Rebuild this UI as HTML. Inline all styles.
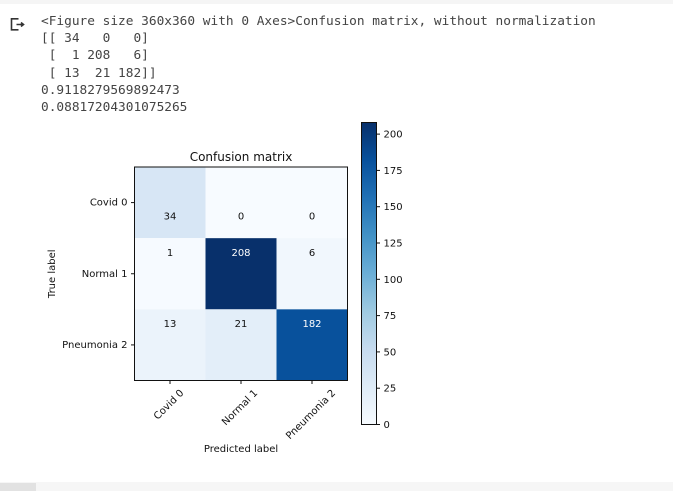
<!DOCTYPE html>
<html lang="en">
<head>
<meta charset="utf-8">
<title>Confusion matrix</title>
<style>
  html, body { margin: 0; padding: 0; background: #fff; }
  body { width: 673px; height: 491px; overflow: hidden; position: relative; }
  #top-bar { position: absolute; left: 0; top: 0; width: 673px; height: 4px; background: #f5f5f5; }
  #bottom-bar { position: absolute; left: 0; top: 482px; width: 673px; height: 9px; background: #f6f6f6; }
  #scroll-thumb { position: absolute; left: 0; top: 1px; width: 36px; height: 8px; background: #e2e2e2; }
  #output { position: absolute; left: 41px; top: 13px; margin: 0; font: 12.8px/17.2px "DejaVu Sans Mono", "Liberation Mono", monospace; color: #444; white-space: pre; }
  #icon { position: absolute; left: 0; top: 0; }
  #chart { position: absolute; left: 0; top: 0; }
  #chart text { font-family: "DejaVu Sans", "Liberation Sans", sans-serif; font-size: 10px; fill: #111; }
</style>
</head>
<body>
<div id="top-bar"></div>
<svg id="icon" width="40" height="40">
  <path d="M18.500 18.800H11.500V29.800H18.500M16.500 24.500H23.500M21 22.500L23.500 24.500L21 26.500" fill="none" stroke="#333" stroke-width="1.600"/>
</svg>
<pre id="output">&lt;Figure size 360x360 with 0 Axes&gt;Confusion matrix, without normalization
[[ 34   0   0]
 [  1 208   6]
 [ 13  21 182]]
0.9118279569892473
0.08817204301075265</pre>
<svg id="chart" width="673" height="491"></svg>
<div id="bottom-bar"><div id="scroll-thumb"></div></div>
<script>
const categories = ['Covid 0', 'Normal 1', 'Pneumonia 2'];
const matrixRow0 = [34, 0, 0];
const matrixRow1 = [1, 208, 6];
const matrixRow2 = [13, 21, 182];
const colorbarTicks = [0, 25, 50, 75, 100, 125, 150, 175, 200];
const blues = ['#f7fbff', '#deebf7', '#c6dbef', '#9ecae1', '#6baed6', '#4292c6', '#2171b5', '#08519c', '#08306b'];

const matrix = [matrixRow0, matrixRow1, matrixRow2];
const svg = document.getElementById('chart');
const NS = 'http://www.w3.org/2000/svg';
const axL = 134.5, axR = 347.5, axT = 167, axB = 380.5;
const cbL = 361.5, cbR = 376.5, cbT = 122.5, cbB = 424.5;
const maxV = Math.max(...matrix.flat());
const minV = Math.min(...matrix.flat());
const n = categories.length;

function xEdge(j) { return axL + j * (axR - axL) / n; }
function yEdge(i) { return axT + i * (axB - axT) / n; }
function xCenter(j) { return xEdge(j + 0.5); }
function yCenter(i) { return yEdge(i + 0.5); }
function cbY(v) { return cbB - (v - minV) / (maxV - minV) * (cbB - cbT); }
function color(v) {
  const t = Math.min(1, Math.max(0, (v - minV) / (maxV - minV))) * (blues.length - 1);
  const k = Math.min(blues.length - 2, Math.floor(t));
  const f = t - k;
  const hex = (s, p) => parseInt(s.substr(p, 2), 16);
  const mix = p => Math.round(hex(blues[k], p) * (1 - f) + hex(blues[k + 1], p) * f);
  return 'rgb(' + mix(1) + ',' + mix(3) + ',' + mix(5) + ')';
}
function make(tag, attrs, text) {
  const el = document.createElementNS(NS, tag);
  for (const key in attrs) el.setAttribute(key, attrs[key]);
  if (text !== undefined) el.textContent = text;
  svg.appendChild(el);
  return el;
}

// Heatmap cells and values
matrix.forEach((row, i) => {
  row.forEach((v, j) => {
    const cell = make('rect', { x: xEdge(j), y: yEdge(i), width: xEdge(j + 1) - xEdge(j), height: yEdge(i + 1) - yEdge(i), fill: color(v) });
    
    
  });
});
matrix.forEach((row, i) => {
  row.forEach((v, j) => {
    const offset = i === 0 ? 17 : -18;
    const label = make('text', { x: xCenter(j), y: yCenter(i) + offset, 'text-anchor': 'middle' }, String(v));
    label.style.fill = v > (maxV + minV) / 2 ? '#fff' : '#111';
    
    
  });
});

// Axes frame
const frame = make('rect', { x: axL, y: axT, width: axR - axL, height: axB - axT, fill: 'none', stroke: '#111', 'stroke-width': 1 });



// Y axis ticks and labels
categories.forEach((c, i) => {
  const tick = make('line', { x1: axL - 3.5, x2: axL, y1: yCenter(i), y2: yCenter(i), stroke: '#111' });
  
  
  const label = make('text', { x: axL - 7, y: yCenter(i) + 3, 'text-anchor': 'end' }, c);
  
  
});

// X axis ticks and rotated labels
categories.forEach((c, j) => {
  const tick = make('line', { x1: xCenter(j), x2: xCenter(j), y1: axB, y2: axB + 3.5, stroke: '#111' });
  
  
  const label = make('text', { 'text-anchor': 'middle' }, c);
  
  
  const w = label.getComputedTextLength();
  const half = (w + 10) * Math.SQRT1_2 / 2;
  const cx = xCenter(j) - 1.5;
  const cy = axB + 7 + half;
  label.setAttribute('x', cx);
  label.setAttribute('y', cy + 3.5);
  label.setAttribute('transform', 'rotate(-45 ' + cx + ' ' + cy + ')');
});

// Titles
const title = make('text', { x: (axL + axR) / 2, y: axT - 6, 'text-anchor': 'middle' }, 'Confusion matrix');
title.style.fontSize = '12px';


const xTitle = make('text', { x: (axL + axR) / 2, y: 452, 'text-anchor': 'middle' }, 'Predicted label');


const yTitle = make('text', { x: 55, y: (axT + axB) / 2, 'text-anchor': 'middle', transform: 'rotate(-90 55 ' + (axT + axB) / 2 + ')' }, 'True label');



// Colorbar
const defs = make('defs', {});
const grad = document.createElementNS(NS, 'linearGradient');
grad.setAttribute('id', 'blues-grad');
grad.setAttribute('x1', '0');
grad.setAttribute('x2', '0');
grad.setAttribute('y1', '1');
grad.setAttribute('y2', '0');
blues.forEach((b, k) => {
  const stop = document.createElementNS(NS, 'stop');
  stop.setAttribute('offset', k / (blues.length - 1));
  stop.setAttribute('stop-color', b);
  grad.appendChild(stop);
});
defs.appendChild(grad);
const bar = make('rect', { x: cbL, y: cbT, width: cbR - cbL, height: cbB - cbT, fill: 'url(#blues-grad)', stroke: '#111', 'stroke-width': 1 });


colorbarTicks.forEach(v => {
  const y = cbY(v);
  const tick = make('line', { x1: cbR, x2: cbR + 3.5, y1: y, y2: y, stroke: '#111' });
  
  
  const label = make('text', { x: cbR + 7, y: y + 3.5 }, String(v));
  
  
});
</script>
</body>
</html>
